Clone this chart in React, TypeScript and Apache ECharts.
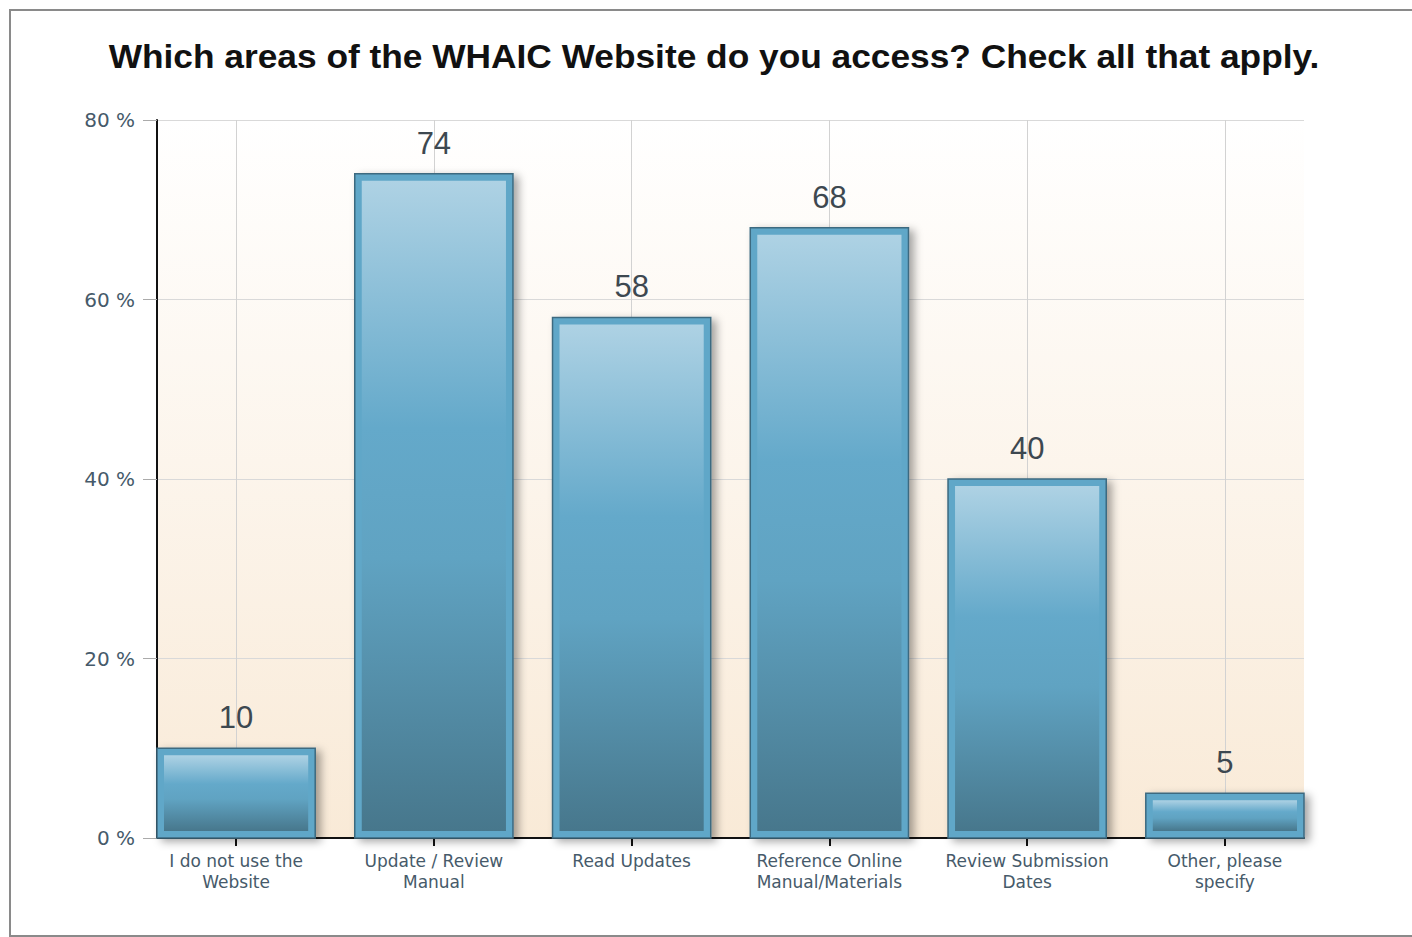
import React, { useEffect, useRef } from "react";
import * as echarts from "echarts";

const titleText = "Which areas of the WHAIC Website do you access? Check all that apply.";
const categories = [
  "I do not use the\nWebsite",
  "Update / Review\nManual",
  "Read Updates",
  "Reference Online\nManual/Materials",
  "Review Submission\nDates",
  "Other, please\nspecify",
];
const values = [10, 74, 58, 68, 40, 5];
const yMax = 80;
const yInterval = 20;

export default function App() {
  const ref = useRef<HTMLDivElement>(null);
  useEffect(() => {
    if (!ref.current) return;
    const chart = echarts.init(ref.current, undefined, { renderer: "svg" });
    const font = "'Liberation Sans', Arial, sans-serif";
    const axisFont = "'DejaVu Sans', Verdana, sans-serif";
    const positions = categories.map((_, i) => i);
    const option: any = {
      animation: false,
      backgroundColor: "#ffffff",
      graphic: [
        {
          type: "rect",
          shape: { x: 10, y: 10, width: 1412, height: 926 },
          style: { fill: "none", stroke: "#8a8a8a", lineWidth: 2 },
          silent: true,
        },
        {
          type: "text",
          x: 714,
          y: 56,
          scaleX: 1.07,
          style: {
            text: titleText,
            align: "center",
            verticalAlign: "middle",
            fontFamily: font,
            fontSize: 33,
            fontWeight: "bold",
            fill: "#111",
          },
          silent: true,
        },
      ],
      grid: {
        left: 157,
        right: 108,
        top: 120,
        bottom: 99,
        show: true,
        borderWidth: 0,
        backgroundColor: new echarts.graphic.LinearGradient(0, 0, 0, 1, [
          { offset: 0, color: "#ffffff" },
          { offset: 1, color: "#f9ead7" },
        ]),
      },
      xAxis: {
        type: "value",
        min: -0.4,
        max: 5.4,
        axisLine: { show: true, onZero: false, lineStyle: { color: "#111", width: 2 } },
        axisTick: {
          show: true,
          customValues: positions,
          length: 8,
          lineStyle: { color: "#111", width: 2 },
        },
        axisLabel: {
          customValues: positions,
          formatter: (v: number) => categories[Math.round(v)] ?? "",
          margin: 12,
          fontFamily: axisFont,
          fontSize: 17,
          lineHeight: 21,
          color: "#465a6a",
        },
        splitLine: { show: false },
      },
      yAxis: {
        type: "value",
        min: 0,
        max: yMax,
        interval: yInterval,
        axisLine: { show: true, onZero: false, lineStyle: { color: "#111", width: 2 } },
        axisTick: { show: true, length: 14, lineStyle: { color: "#aaa", width: 1 } },
        axisLabel: {
          margin: 22,
          formatter: "{value} %",
          fontFamily: axisFont,
          fontSize: 20,
          color: "#465a6a",
        },
        splitLine: { show: true, lineStyle: { color: "#d9d9d9", width: 1 } },
      },
      series: [
        {
          type: "line",
          data: [],
          z: 1,
          silent: true,
          showSymbol: false,
          markLine: {
            z: 1,
            silent: true,
            symbol: ["none", "none"],
            label: { show: false },
            lineStyle: { color: "#d2d2d2", width: 1, type: "solid" },
            data: positions.map((p) => ({ xAxis: p })),
          },
        },
        {
          type: "custom",
          z: 3,
          data: values.map((v, i) => [i, v]),
          encode: { x: 0, y: 1 },
          renderItem: (params: any, api: any) => {
            const idx = api.value(0);
            const v = api.value(1);
            const top = api.coord([idx, v]);
            const base = api.coord([idx, 0]);
            const bw = api.size([0.8, 0])[0];
            const x0 = top[0] - bw / 2;
            const h = base[1] - top[1];
            const inset = 7;
            return {
              type: "group",
              children: [
                {
                  type: "rect",
                  shape: { x: x0, y: top[1], width: bw, height: h },
                  style: {
                    fill: "#61a7c8",
                    stroke: "#3c6a80",
                    lineWidth: 1.5,
                    shadowBlur: 8,
                    shadowOffsetX: 5,
                    shadowOffsetY: 3,
                    shadowColor: "rgba(0,0,0,0.35)",
                  },
                },
                {
                  type: "rect",
                  shape: {
                    x: x0 + inset,
                    y: top[1] + inset,
                    width: bw - inset * 2,
                    height: Math.max(h - inset * 2, 1),
                  },
                  style: {
                    fill: new echarts.graphic.LinearGradient(0, 0, 0, 1, [
                      { offset: 0, color: "#aed2e4" },
                      { offset: 0.38, color: "#64a9ca" },
                      { offset: 0.58, color: "#60a3c2" },
                      { offset: 1, color: "#47778c" },
                    ]),
                  },
                },
                {
                  type: "text",
                  x: top[0],
                  y: top[1] - 15,
                  style: {
                    text: String(v),
                    align: "center",
                    verticalAlign: "bottom",
                    fontFamily: font,
                    fontSize: 31,
                    fill: "#3d4850",
                  },
                },
              ],
            };
          },
        },
      ],
    };
    chart.setOption(option);
    return () => chart.dispose();
  }, []);
  return (
    <div
      ref={ref}
      style={{ position: "fixed", left: 0, top: 0, width: 1412, height: 937 }}
    />
  );
}
